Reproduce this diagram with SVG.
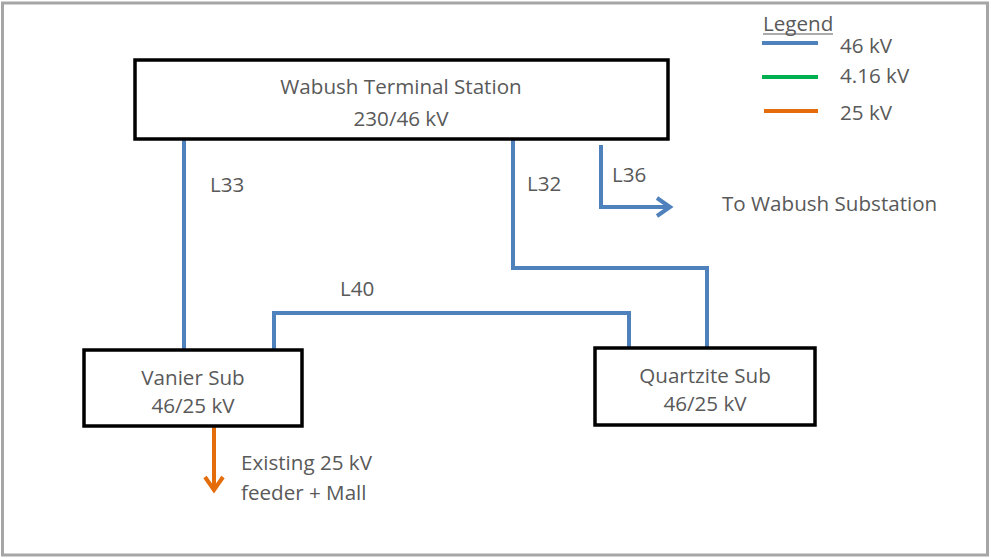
<svg xmlns="http://www.w3.org/2000/svg" width="991" height="558" viewBox="0 0 991 558">
<style>
.t{font-family:"Open Sans","Liberation Sans",sans-serif;font-size:20.6px;fill:#595959}
.box{fill:#fff;stroke:#000;stroke-width:3.5}
.b{fill:none;stroke:#4F81BD;stroke-width:4}
.o{fill:none;stroke:#E46C0A;stroke-width:4}
.g{fill:none;stroke:#00B050;stroke-width:4}
</style>
<rect x="0" y="0" width="991" height="558" fill="#fff"/>
<rect x="2.5" y="3" width="985" height="552" fill="none" stroke="#a6a6a6" stroke-width="3"/>
<g id="legend">
<text class="t" x="763" y="31">Legend</text>
<line x1="763" y1="34" x2="833" y2="34" stroke="#595959" stroke-width="1.2"/>
<line class="b" x1="762" y1="43" x2="818" y2="43"/>
<text class="t" x="840" y="53">46 kV</text>
<line class="g" x1="762" y1="77" x2="818" y2="77"/>
<text class="t" x="840" y="83">4.16 kV</text>
<line class="o" x1="764" y1="111" x2="818" y2="111"/>
<text class="t" x="840" y="120">25 kV</text>
</g>
<g id="connectors">
<polyline class="b" points="184,139 184,350"/>
<polyline class="b" points="513,139 513,268 707,268 707,347"/>
<polyline class="b" points="601,145 601,207 670,207"/>
<polyline class="b" points="657,198 670,207 657,216"/>
<polyline class="b" points="274,350 274,313 629,313 629,350"/>
<polyline class="o" points="214,426 214,490"/>
<polyline class="o" points="205,477 214,490 223,477"/>
<text class="t" x="210" y="192">L33</text>
<text class="t" x="527" y="191">L32</text>
<text class="t" x="612" y="182">L36</text>
<text class="t" x="722" y="211">To Wabush Substation</text>
<text class="t" x="340" y="296">L40</text>
<text class="t" x="241" y="470">Existing 25 kV</text>
<text class="t" x="241" y="500">feeder + Mall</text>
</g>
<g id="wabush">
<rect class="box" x="135" y="60" width="533" height="79"/>
<text class="t" x="401" y="94" text-anchor="middle">Wabush Terminal Station</text>
<text class="t" x="401" y="126" text-anchor="middle">230/46 kV</text>
</g>
<g id="vanier">
<rect class="box" x="84" y="350" width="218" height="76"/>
<text class="t" x="193" y="385" text-anchor="middle">Vanier Sub</text>
<text class="t" x="193" y="413" text-anchor="middle">46/25 kV</text>
</g>
<g id="quartzite">
<rect class="box" x="595" y="348" width="220" height="77"/>
<text class="t" x="705" y="383" text-anchor="middle">Quartzite Sub</text>
<text class="t" x="705" y="411" text-anchor="middle">46/25 kV</text>
</g>
</svg>
